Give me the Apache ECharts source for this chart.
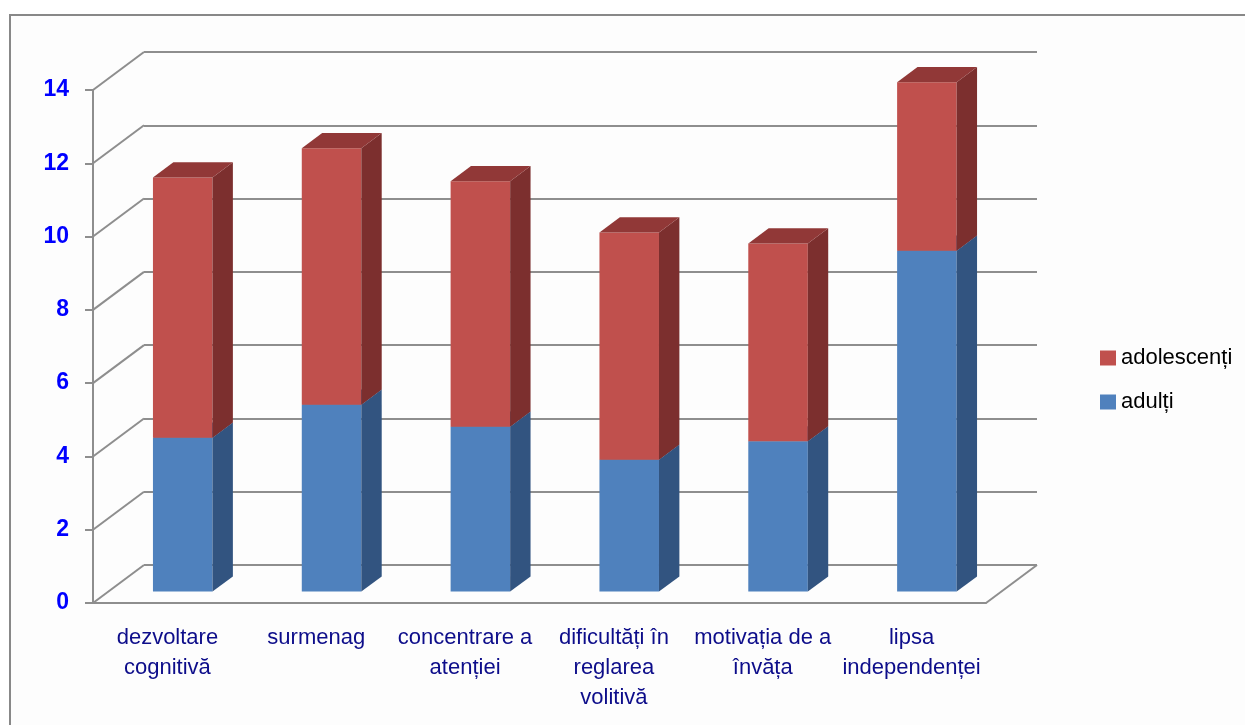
<!DOCTYPE html>
<html>
<head>
<meta charset="utf-8">
<script src="https://cdn.jsdelivr.net/npm/echarts@6/dist/echarts.min.js"></script>
<style>
  html, body { margin: 0; padding: 0; background: #fff; }
  #main { width: 1245px; height: 725px; }
</style>
</head>
<body>
<div id="main"></div>
<script>
// categorii (axa X)
const categories = [
  'dezvoltare\ncognitivă',
  'surmenag',
  'concentrare a\natenției',
  'dificultăți în\nreglarea\nvolitivă',
  'motivația de a\nînvăța',
  'lipsa\nindependenței'
]
// valorile seriilor (stivuite)
const adulti = [4.2, 5.1, 4.5, 3.6, 4.1, 9.3]
const adolescenti = [7.1, 7.0, 6.7, 6.2, 5.4, 4.6]
// etichetele axei Y
const yTicks = [0, 2, 4, 6, 8, 10, 12, 14]

// adancimea "cutiei" 3d, in pixeli
const DX = 51, DY = 38
const gridLine = { color: '#8e8e8e', width: 2 }

// fabrica de renderItem pentru bara 3d (fata, lateral, sus)
function bar3d(front, side, top) {
  return function (params, api) {
    let i = api.value(0)
    let lo = api.value(1)
    let hi = api.value(2)
    let bw = api.size([1, 0])[0]
    let w = bw * 0.4
    let p0 = api.coord([i, lo])
    let p1 = api.coord([i, hi])
    // bara sta intre adancimea 0.3 si 0.7
    let ox = DX * 0.3, oy = DY * 0.3
    let dx = DX * 0.4, dy = DY * 0.4
    let x0 = p0[0] - w / 2 + ox
    let x1 = x0 + w
    let yb = p0[1] - oy
    let yt = p1[1] - oy
    return {
      type: 'group',
      children: [
        { type: 'rect', shape: { x: x0, y: yt, width: w, height: yb - yt }, style: { fill: front } },
        { type: 'polygon', shape: { points: [[x1, yb], [x1 + dx, yb - dy], [x1 + dx, yt - dy], [x1, yt]] }, style: { fill: side } },
        { type: 'polygon', shape: { points: [[x0, yt], [x1, yt], [x1 + dx, yt - dy], [x0 + dx, yt - dy]] }, style: { fill: top } }
      ]
    }
  }
}

// liniile oblice de pe peretele din stanga (si podeaua din dreapta)
function diagonal(params, api) {
  let sideIdx = api.value(0)
  let v = api.value(1)
  let bw = api.size([1, 0])[0]
  let x
  if (sideIdx === 0) {
    x = api.coord([0, v])[0] - bw / 2
  } else {
    x = api.coord([categories.length - 1, v])[0] + bw / 2
  }
  let y = api.coord([0, v])[1]
  return {
    type: 'line',
    shape: { x1: x, y1: y, x2: x + DX, y2: y - DY },
    style: { stroke: gridLine.color, lineWidth: gridLine.width }
  }
}

var myChart = echarts.init(document.getElementById('main'))

var option = {
  animation: false,
  backgroundColor: '#ffffff',
  graphic: [
    {
      type: 'rect',
      shape: { x: 10, y: 15, width: 1260, height: 740 },
      style: { fill: '#fdfdfd', stroke: '#888888', lineWidth: 2 },
      z: -10
    }
  ],
  legend: {
    orient: 'vertical',
    left: 1100,
    top: 347,
    padding: 0,
    itemWidth: 16,
    itemHeight: 15,
    itemGap: 22,
    icon: 'rect',
    data: ['adolescenți', 'adulți'],
    textStyle: { color: '#000', fontSize: 22, lineHeight: 22, fontFamily: 'Liberation Sans, Arial, sans-serif' }
  },
  grid: [
    // planul din fata
    { left: 93, top: 90, width: 893, height: 513 },
    // peretele din spate
    { left: 93 + DX, top: 90 - DY, width: 893, height: 513 }
  ],
  xAxis: [
    {
      type: 'category',
      gridIndex: 0,
      data: categories,
      axisLine: { lineStyle: gridLine },
      axisTick: { length: 6, lineStyle: gridLine },
      axisLabel: {
        interval: 0,
        margin: 20,
        color: '#0d0d8a',
        fontSize: 22,
        lineHeight: 30,
        fontFamily: 'Liberation Sans, Arial, sans-serif'
      }
    },
    { type: 'category', gridIndex: 1, data: categories, show: false }
  ],
  yAxis: [
    {
      type: 'value',
      gridIndex: 0,
      min: 0,
      max: 14,
      interval: 2,
      splitLine: { show: false },
      axisLine: { show: true, lineStyle: gridLine },
      axisTick: { show: true, length: 8, lineStyle: gridLine },
      axisLabel: {
        margin: 24,
        color: '#0000ff',
        fontWeight: 'bold',
        fontSize: 23,
        fontFamily: 'Liberation Sans, Arial, sans-serif',
        formatter: v => yTicks.includes(v) ? String(v) : ''
      }
    },
    {
      type: 'value',
      gridIndex: 1,
      min: 0,
      max: 14,
      interval: 2,
      axisLine: { show: false },
      axisTick: { show: false },
      axisLabel: { show: false },
      splitLine: { lineStyle: gridLine }
    }
  ],
  series: [
    {
      type: 'custom',
      name: 'diag',
      xAxisIndex: 0,
      yAxisIndex: 0,
      renderItem: diagonal,
      data: yTicks.map(v => [0, v]).concat([[1, 0]]),
      silent: true,
      z: 1
    },
    {
      type: 'custom',
      name: 'adulți',
      xAxisIndex: 0,
      yAxisIndex: 0,
      itemStyle: { color: '#4f81bd' },
      renderItem: bar3d('#4f81bd', '#325480', '#3f6797'),
      data: adulti.map((v, i) => [i, 0, v]),
      z: 5
    },
    {
      type: 'custom',
      name: 'adolescenți',
      xAxisIndex: 0,
      yAxisIndex: 0,
      itemStyle: { color: '#c0504d' },
      renderItem: bar3d('#c0504d', '#7c2f2e', '#913837'),
      data: adolescenti.map((v, i) => [i, adulti[i], adulti[i] + v]),
      z: 6
    }
  ]
}

option && myChart.setOption(option)
</script>
</body>
</html>
